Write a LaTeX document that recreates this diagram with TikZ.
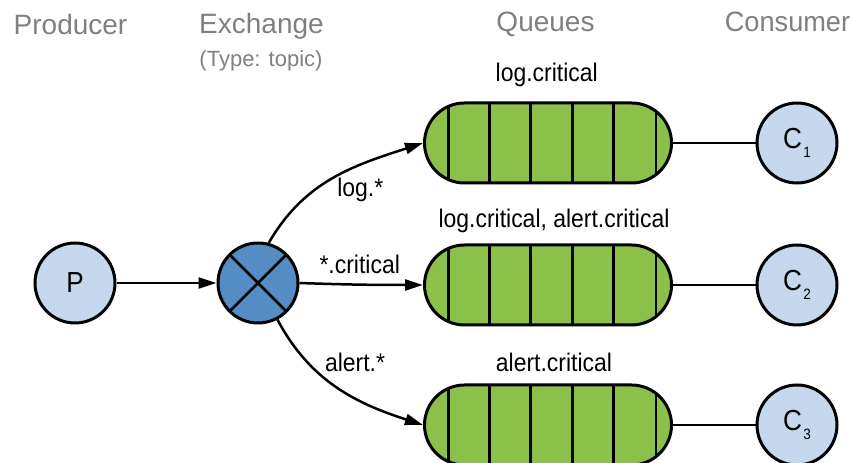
\documentclass[tikz,border=0pt]{standalone}
\usepackage{fontspec}
\setmainfont{Liberation Sans}
\newfontfamily\labelfont{Liberation Sans}[FakeStretch=0.9]
\usetikzlibrary{arrows.meta,shapes.misc}

\definecolor{nodeblue}{RGB}{197,216,238}
\definecolor{exblue}{RGB}{84,141,196}
\definecolor{queuegreen}{RGB}{139,193,74}
\definecolor{headgrey}{RGB}{128,128,128}

\newcommand{\consumer}[1]{C\kern1.5pt\raisebox{-9pt}{\fontsize{15}{15}\selectfont #1}}

\begin{document}
\begin{tikzpicture}[x=1pt,y=1pt,
  endpoint/.style={circle, draw, line width=3pt, fill=nodeblue,
    minimum size=80pt, inner sep=0pt,
    font=\labelfont\fontsize{29}{29}\selectfont},
  exchange/.style={circle, draw, line width=3pt, fill=exblue,
    minimum size=80pt, inner sep=0pt,
    path picture={\draw[line width=2.8pt]
      (path picture bounding box.north east) -- (path picture bounding box.south west)
      (path picture bounding box.north west) -- (path picture bounding box.south east);}},
  queue/.style={rounded rectangle, draw, line width=3pt, fill=queuegreen,
    minimum width=247pt, minimum height=80pt, inner sep=0pt,
    path picture={\foreach \dx in {-99.7,-58.7,-17.3,24.3,65.7,108}{
      \draw[line width=2.8pt, shift={(path picture bounding box.center)}]
        (\dx,-50) -- (\dx,50);}}},
  header/.style={text=headgrey, font=\fontsize{28}{28}\selectfont, anchor=base, inner sep=0pt},
  subheader/.style={text=headgrey, font=\fontsize{22}{22}\selectfont, anchor=base, inner sep=0pt},
  qlabel/.style={font=\labelfont\fontsize{25.5}{25.5}\selectfont, anchor=base, inner sep=0pt},
  flow/.style={line width=2.5pt, -{Triangle[length=18pt,width=11pt]}},
  link/.style={line width=2.5pt}
]
\useasboundingbox (0,0) rectangle (852,463);

% column headings
\node[header] (hprod) at (70.5,428) {Producer};
\node[header] (hex) at (261.5,429.5) {Exchange};
\node[subheader] (htype) at (261,396.3) {(Type: topic)};
\node[header] (hq) at (545.5,431.3) {Queues};
\node[header] (hcons) at (787.5,431.3) {\scalebox{0.97}[1]{Consumer}};

% producer and exchange
\node[endpoint] (p) at (75,180) {P};
\node[exchange] (ex) at (258,180) {};

% queues
\node[queue] (q1) at (548,320) {};
\node[queue] (q2) at (548,178) {};
\node[queue] (q3) at (548,38) {};

% queue names
\node[qlabel] (l1) at (546.7,381.3) {log.critical};
\node[qlabel] (l2) at (554,235.3) {log.critical, alert.critical};
\node[qlabel] (l3) at (554,91.3) {alert.critical};

% consumers
\node[endpoint] (c1) at (797,320) {\consumer{1}};
\node[endpoint] (c2) at (797,178) {\consumer{2}};
\node[endpoint] (c3) at (797,38) {\consumer{3}};

% bindings
\draw[flow] (p) -- (ex);
\draw[flow] (ex.75) to[out=60,in=198] (q1.west);
\draw[flow] (ex.east) to[out=-2,in=180] (q2.west);
\draw[flow] (ex.-62) to[out=-62,in=162] (q3.west);

\node[qlabel] (k1) at (360.3,266.3) {log.*};
\node[qlabel] (k2) at (359.7,189.7) {*.critical};
\node[qlabel] (k3) at (355,91.3) {alert.*};

% queue to consumer
\draw[link] (q1.east) -- (c1.west);
\draw[link] (q2.east) -- (c2.west);
\draw[link] (q3.east) -- (c3.west);
\end{tikzpicture}
\end{document}
